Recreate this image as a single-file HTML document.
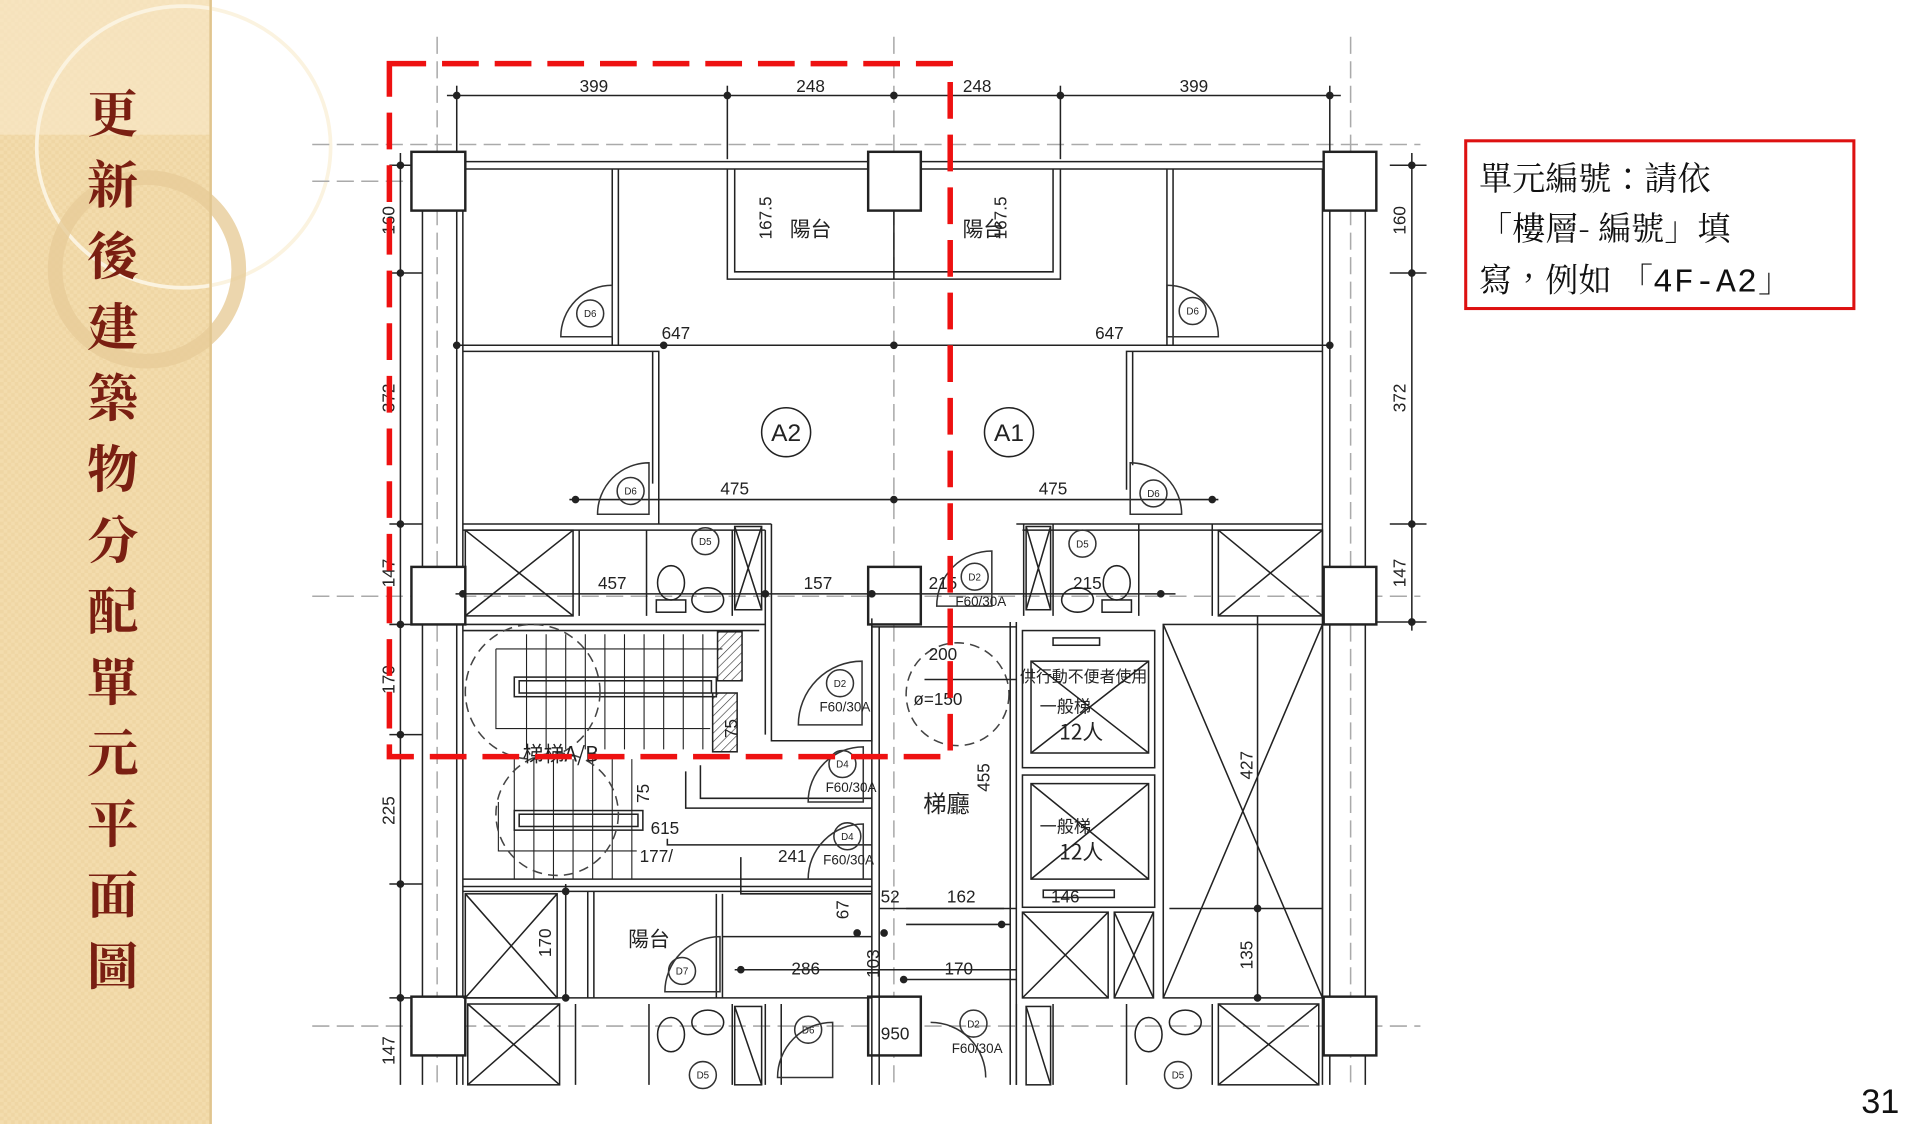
<!DOCTYPE html>
<html><head><meta charset="utf-8"><style>
html,body{margin:0;padding:0;background:#fff;}
svg{display:block}
</style></head><body>
<svg width="1920" height="1124" viewBox="0 0 1568 918" preserveAspectRatio="none" xmlns="http://www.w3.org/2000/svg">
<defs>
<pattern id="chk" width="6" height="6" patternUnits="userSpaceOnUse"><rect width="6" height="6" fill="#f3dcad"/><rect width="3" height="3" fill="#efd6a4"/><rect x="3" y="3" width="3" height="3" fill="#efd6a4"/></pattern>
<pattern id="hatch" width="5" height="5" patternUnits="userSpaceOnUse" patternTransform="rotate(45)"><line x1="0" y1="0" x2="0" y2="5" stroke="#333" stroke-width="1"/></pattern>
</defs>
<!-- sidebar -->
<rect x="0" y="0" width="173" height="918" fill="url(#chk)"/>
<rect x="0" y="0" width="173" height="110" fill="#f8e7c6" opacity="0.7"/>
<ellipse cx="150" cy="120" rx="120" ry="115" fill="none" stroke="#fbf3e0" stroke-width="3"/>
<ellipse cx="120" cy="220" rx="75" ry="75" fill="none" stroke="#e7cc98" stroke-width="12" opacity="0.8"/>
<line x1="172" y1="0" x2="172" y2="918" stroke="#e0c58f" stroke-width="2"/>
<g font-family="'Noto Serif CJK TC','Noto Serif CJK SC',serif" font-weight="bold" font-size="42" fill="#7a1f12" text-anchor="middle">
<text x="92" y="108">更</text><text x="92" y="166">新</text><text x="92" y="224">後</text><text x="92" y="282">建</text><text x="92" y="340">築</text><text x="92" y="398">物</text><text x="92" y="456">分</text><text x="92" y="514">配</text><text x="92" y="572">單</text><text x="92" y="630">元</text><text x="92" y="688">平</text><text x="92" y="746">面</text><text x="92" y="804">圖</text>
</g>

<!-- plan -->
<g stroke="#222" stroke-width="1.25" fill="none">
<g stroke="#aaa" stroke-dasharray="14,6">
<line x1="255" y1="118" x2="1160" y2="118"/><line x1="255" y1="148" x2="380" y2="148"/>
<line x1="255" y1="487" x2="1160" y2="487"/><line x1="255" y1="838" x2="1160" y2="838"/>
<line x1="357" y1="30" x2="357" y2="886"/><line x1="730" y1="30" x2="730" y2="886"/><line x1="1103" y1="30" x2="1103" y2="886"/>
</g>
<line x1="365" y1="78" x2="1095" y2="78"/>
<g fill="#222"><circle cx="373" cy="78" r="2.5"/><circle cx="594" cy="78" r="2.5"/><circle cx="730" cy="78" r="2.5"/><circle cx="866" cy="78" r="2.5"/><circle cx="1086" cy="78" r="2.5"/></g>
<line x1="373" y1="70" x2="373" y2="130"/><line x1="594" y1="70" x2="594" y2="130"/><line x1="866" y1="70" x2="866" y2="130"/><line x1="1086" y1="70" x2="1086" y2="130"/>
<line x1="327" y1="125" x2="327" y2="886"/>
<g fill="#222"><circle cx="327" cy="135" r="2.5"/><circle cx="327" cy="223" r="2.5"/><circle cx="327" cy="428" r="2.5"/><circle cx="327" cy="510" r="2.5"/><circle cx="327" cy="600" r="2.5"/><circle cx="327" cy="722" r="2.5"/><circle cx="327" cy="815" r="2.5"/></g>
<line x1="318" y1="135" x2="345" y2="135"/><line x1="318" y1="223" x2="345" y2="223"/><line x1="318" y1="428" x2="345" y2="428"/><line x1="318" y1="510" x2="345" y2="510"/><line x1="318" y1="600" x2="345" y2="600"/><line x1="318" y1="722" x2="345" y2="722"/><line x1="318" y1="815" x2="345" y2="815"/>
<line x1="1153" y1="125" x2="1153" y2="515"/>
<g fill="#222"><circle cx="1153" cy="135" r="2.5"/><circle cx="1153" cy="223" r="2.5"/><circle cx="1153" cy="428" r="2.5"/><circle cx="1153" cy="508" r="2.5"/></g>
<line x1="1135" y1="135" x2="1165" y2="135"/><line x1="1135" y1="223" x2="1165" y2="223"/><line x1="1135" y1="428" x2="1165" y2="428"/><line x1="1120" y1="508" x2="1165" y2="508"/>
<line x1="345" y1="124" x2="345" y2="886"/><line x1="373" y1="135" x2="373" y2="886"/><line x1="378" y1="138" x2="378" y2="886"/>
<line x1="1080" y1="138" x2="1080" y2="886"/><line x1="1086" y1="135" x2="1086" y2="886"/><line x1="1115" y1="124" x2="1115" y2="886"/>
<line x1="373" y1="132" x2="1086" y2="132"/><line x1="378" y1="138" x2="1080" y2="138"/>
<g stroke-width="2" fill="#fff">
<rect x="336" y="124" width="44" height="48"/><rect x="709" y="124" width="43" height="48"/><rect x="1081" y="124" width="43" height="48"/>
<rect x="336" y="463" width="44" height="47"/><rect x="709" y="463" width="43" height="47"/><rect x="1081" y="463" width="43" height="47"/>
<rect x="336" y="814" width="44" height="48"/><rect x="709" y="814" width="43" height="48"/><rect x="1081" y="814" width="43" height="48"/>
</g>
<path d="M594 138 V228 H866 V138 M600 138 V222 H860 V138"/>
<line x1="730" y1="172" x2="730" y2="228"/>
<line x1="373" y1="282" x2="1086" y2="282"/>
<path d="M505 138 V282 M500 138 V282 M958 138 V282 M953 138 V282"/>
<path d="M378 287 H538 V428 M533 287 V395 M1080 287 H920 V400 M925 287 V380"/>
<line x1="465" y1="408" x2="995" y2="408"/>
<g fill="#222"><circle cx="470" cy="408" r="2.5"/><circle cx="730" cy="408" r="2.5"/><circle cx="990" cy="408" r="2.5"/><circle cx="730" cy="282" r="2.5"/><circle cx="542" cy="282" r="2.5"/><circle cx="1086" cy="282" r="2.5"/><circle cx="373" cy="282" r="2.5"/></g>
<path d="M378 428 H630 M378 433 H625 M830 428 H1080 M835 433 H1080"/>
<rect x="380" y="433" width="88" height="70"/><path d="M380 433 L468 503 M468 433 L380 503"/>
<rect x="995" y="433" width="85" height="70"/><path d="M995 433 L1080 503 M1080 433 L995 503"/>
<path d="M473 433 V503 M528 433 V503 M598 433 V503 M625 433 V600 M630 428 V605 H712 V505"/>
<path d="M836 428 V503 M860 428 V503 M930 428 V503 M990 428 V503"/>
<rect x="600" y="430" width="22" height="68"/><path d="M600 430 L622 498 M622 430 L600 498"/>
<rect x="838" y="430" width="20" height="68"/><path d="M838 430 L858 498 M858 430 L838 498"/>
<line x1="372" y1="485" x2="960" y2="485"/>
<g fill="#222"><circle cx="378" cy="485" r="2.5"/><circle cx="625" cy="485" r="2.5"/><circle cx="712" cy="485" r="2.5"/><circle cx="948" cy="485" r="2.5"/></g>
<ellipse cx="548" cy="476" rx="11" ry="14"/><rect x="536" y="490" width="24" height="10"/>
<ellipse cx="578" cy="490" rx="13" ry="10"/>
<ellipse cx="912" cy="476" rx="11" ry="14"/><rect x="900" y="490" width="24" height="10"/>
<ellipse cx="880" cy="490" rx="13" ry="10"/>
<path d="M378 510 H625 M378 515 H620 M378 718 H712 M378 724 H712"/>
<rect x="420" y="553" width="165" height="16"/><rect x="424" y="556" width="157" height="10"/>
<rect x="420" y="662" width="105" height="16"/><rect x="424" y="665" width="97" height="10"/>
<g stroke-width="0.9">
<path d="M430 518 V612 M446 518 V612 M462 518 V612 M478 518 V612 M494 518 V612 M510 518 V612 M526 518 V612 M542 518 V612 M558 518 V612 M574 518 V612"/>
<path d="M420 620 V718 M436 620 V718 M452 620 V718 M468 620 V718 M484 620 V718 M500 620 V718 M516 620 V718"/>
<path d="M405 530 H590 M405 530 V595 H580 M407 655 V695 H520"/>
</g>
<rect x="586" y="516" width="20" height="40" fill="url(#hatch)"/>
<rect x="582" y="566" width="20" height="48" fill="url(#hatch)"/>
<path d="M560 630 V660 H712 M572 625 V652 H712 M545 685 V690 H712 M605 700 V730 H712"/>
<g stroke-dasharray="8,5" stroke="#444">
<circle cx="435" cy="565" r="55"/><circle cx="455" cy="665" r="50"/><circle cx="782" cy="567" r="42"/>
</g>
<path d="M712 510 V886 M718 512 V886 M825 508 V886 M830 508 V886 M712 512 H830"/>
<line x1="755" y1="555" x2="830" y2="555"/>
<rect x="835" y="515" width="108" height="112"/><rect x="842" y="540" width="96" height="75"/><path d="M842 540 L938 615 M938 540 L842 615"/><rect x="860" y="521" width="38" height="6"/>
<rect x="835" y="633" width="108" height="108"/><rect x="842" y="640" width="96" height="78"/><path d="M842 640 L938 718 M938 640 L842 718"/><rect x="852" y="727" width="58" height="6"/>
<rect x="950" y="510" width="130" height="305"/><path d="M950 510 L1080 815 M1080 510 L950 815"/>
<line x1="1027" y1="503" x2="1027" y2="815"/>
<path d="M378 728 H712 M378 815 H712 M740 742 H830 M740 755 H825 M740 800 H830 M585 730 V815 M590 730 V815 M480 728 V815 M485 728 V815 M590 765 H712"/>
<rect x="380" y="730" width="75" height="85"/><path d="M380 730 L455 815 M455 730 L380 815"/>
<line x1="462" y1="722" x2="462" y2="815"/>
<rect x="835" y="745" width="70" height="70"/><path d="M835 745 L905 815 M905 745 L835 815"/>
<rect x="910" y="745" width="32" height="70"/><path d="M910 745 L942 815 M942 745 L910 815"/>
<line x1="600" y1="792" x2="830" y2="792"/>
<line x1="718" y1="742" x2="820" y2="742"/>
<line x1="955" y1="742" x2="1080" y2="742"/>
<g fill="#222"><circle cx="462" cy="728" r="2.5"/><circle cx="462" cy="815" r="2.5"/><circle cx="700" cy="762" r="2.5"/><circle cx="722" cy="762" r="2.5"/><circle cx="738" cy="800" r="2.5"/><circle cx="818" cy="755" r="2.5"/><circle cx="1027" cy="742" r="2.5"/><circle cx="1027" cy="815" r="2.5"/><circle cx="605" cy="792" r="2.5"/></g>
<path d="M470 820 V886 M530 820 V886 M598 820 V886 M625 820 V886 M638 820 V886 M830 820 V886 M860 820 V886 M920 820 V886 M990 820 V886"/>
<rect x="382" y="820" width="75" height="66"/><path d="M382 820 L457 886 M457 820 L382 886"/>
<rect x="995" y="820" width="82" height="66"/><path d="M995 820 L1077 886 M1077 820 L995 886"/>
<rect x="600" y="822" width="22" height="64"/><path d="M600 822 L622 886"/>
<rect x="838" y="822" width="20" height="64"/><path d="M838 822 L858 886"/>
<ellipse cx="548" cy="845" rx="11" ry="14"/><ellipse cx="578" cy="835" rx="13" ry="10"/>
<ellipse cx="938" cy="845" rx="11" ry="14"/><ellipse cx="968" cy="835" rx="13" ry="10"/>
<g stroke="#333">
<path d="M458 275 A42 42 0 0 1 500 233 V275 Z"/><circle cx="482" cy="256" r="11"/>
<path d="M995 275 A42 42 0 0 0 953 233 V275 Z"/><circle cx="974" cy="254" r="11"/>
<path d="M488 420 A42 42 0 0 1 530 378 V420 Z"/><circle cx="515" cy="401" r="11"/>
<path d="M965 420 A42 42 0 0 0 923 378 V420 Z"/><circle cx="942" cy="403" r="11"/>
<circle cx="576" cy="442" r="11"/><circle cx="884" cy="444" r="11"/>
<path d="M765 495 A45 45 0 0 1 810 450 V495 Z"/><circle cx="796" cy="471" r="11"/>
<path d="M652 592 A52 52 0 0 1 704 540 V592 Z"/><circle cx="686" cy="558" r="11"/>
<path d="M660 655 A45 45 0 0 1 705 610 V655 Z"/><circle cx="688" cy="624" r="11"/>
<path d="M660 718 A45 45 0 0 1 705 673 V718 Z"/><circle cx="692" cy="683" r="11"/>
<path d="M543 810 A45 45 0 0 1 588 765 V810 Z"/><circle cx="557" cy="793" r="11"/>
<path d="M635 880 A45 45 0 0 1 680 835 V880 Z"/><circle cx="660" cy="841" r="11"/>
<path d="M805 880 A45 45 0 0 0 760 835"/><circle cx="795" cy="836" r="11"/>
<circle cx="574" cy="878" r="11"/><circle cx="962" cy="878" r="11"/>
</g>
<circle cx="642" cy="353" r="20"/><circle cx="824" cy="353" r="20"/>
</g>

<g font-family="'Liberation Sans Narrow','Liberation Sans',sans-serif" font-size="14" fill="#222" text-anchor="middle">
<text x="485" y="75">399</text><text x="662" y="75">248</text><text x="798" y="75">248</text><text x="975" y="75">399</text>
<text x="552" y="277">647</text><text x="906" y="277">647</text>
<text x="600" y="404">475</text><text x="860" y="404">475</text>
<text x="500" y="481">457</text><text x="668" y="481">157</text><text x="770" y="481">215</text><text x="888" y="481">215</text>
<text x="770" y="539">200</text><text x="766" y="576">ø=150</text>
<text x="543" y="681">615</text><text x="536" y="704">177/</text><text x="647" y="704">241</text>
<text x="727" y="737">52</text><text x="785" y="737">162</text><text x="870" y="737">146</text>
<text x="658" y="796">286</text><text x="783" y="796">170</text><text x="731" y="849">950</text>
<text transform="translate(322,180) rotate(-90)">160</text><text transform="translate(322,325) rotate(-90)">372</text>
<text transform="translate(322,468) rotate(-90)">147</text><text transform="translate(322,555) rotate(-90)">170</text>
<text transform="translate(322,662) rotate(-90)">225</text><text transform="translate(322,858) rotate(-90)">147</text>
<text transform="translate(1148,180) rotate(-90)">160</text><text transform="translate(1148,325) rotate(-90)">372</text>
<text transform="translate(1148,468) rotate(-90)">147</text>
<text transform="translate(630,178) rotate(-90)">167.5</text><text transform="translate(822,178) rotate(-90)">167.5</text>
<text transform="translate(450,770) rotate(-90)">170</text><text transform="translate(693,743) rotate(-90)">67</text>
<text transform="translate(718,787) rotate(-90)">103</text><text transform="translate(808,635) rotate(-90)">455</text>
<text transform="translate(1023,625) rotate(-90)">427</text><text transform="translate(1023,780) rotate(-90)">135</text>
<text transform="translate(602,595) rotate(-90)">75</text><text transform="translate(530,648) rotate(-90)">75</text>
<text font-size="20" x="642" y="360">A2</text><text font-size="20" x="824" y="360">A1</text>
<g font-size="8"><text x="482" y="259">D6</text><text x="974" y="257">D6</text><text x="515" y="404">D6</text><text x="942" y="406">D6</text><text x="576" y="445">D5</text><text x="884" y="447">D5</text><text x="796" y="474">D2</text><text x="686" y="561">D2</text><text x="688" y="627">D4</text><text x="692" y="686">D4</text><text x="557" y="796">D7</text><text x="660" y="844">D6</text><text x="795" y="839">D2</text><text x="574" y="881">D5</text><text x="962" y="881">D5</text></g>
<g font-size="11"><text x="801" y="495">F60/30A</text><text x="690" y="581">F60/30A</text><text x="695" y="647">F60/30A</text><text x="693" y="706">F60/30A</text><text x="798" y="860">F60/30A</text></g>
</g>
<g font-family="'Noto Sans CJK TC',sans-serif" font-size="17" fill="#222" text-anchor="middle">
<text x="662" y="193">陽台</text><text x="803" y="193">陽台</text><text x="530" y="773">陽台</text>
<text x="773" y="663" font-size="19">梯廳</text>
<text x="885" y="557" font-size="13">供行動不便者使用</text>
<text x="870" y="582" font-size="14">一般梯</text><text x="883" y="604" font-size="17">12人</text>
<text x="870" y="680" font-size="14">一般梯</text><text x="883" y="702" font-size="17">12人</text>
<text x="458" y="622" font-size="17">梯梯A/B</text>
</g>

<path d="M318 52 H776 V618 H318 Z" fill="none" stroke="#ee1111" stroke-width="4.5" stroke-dasharray="30,13"/>

<rect x="1197" y="115" width="317" height="137" fill="#fff" stroke="#dd1111" stroke-width="2.5"/>
<g font-family="'Noto Serif CJK TC','Noto Serif CJK SC',serif" font-size="27" fill="#111">
<text x="1208" y="155">單元編號：請依</text>
<text x="1208" y="196">「樓層- 編號」填</text>
<text x="1208" y="238">寫，例如 「<tspan font-family="'Liberation Mono',monospace" letter-spacing="1">4F-A2</tspan>」</text>
</g>
<text x="1520" y="909" font-family="'Liberation Sans',sans-serif" font-size="28" fill="#111">31</text>
</svg>
</body></html>
